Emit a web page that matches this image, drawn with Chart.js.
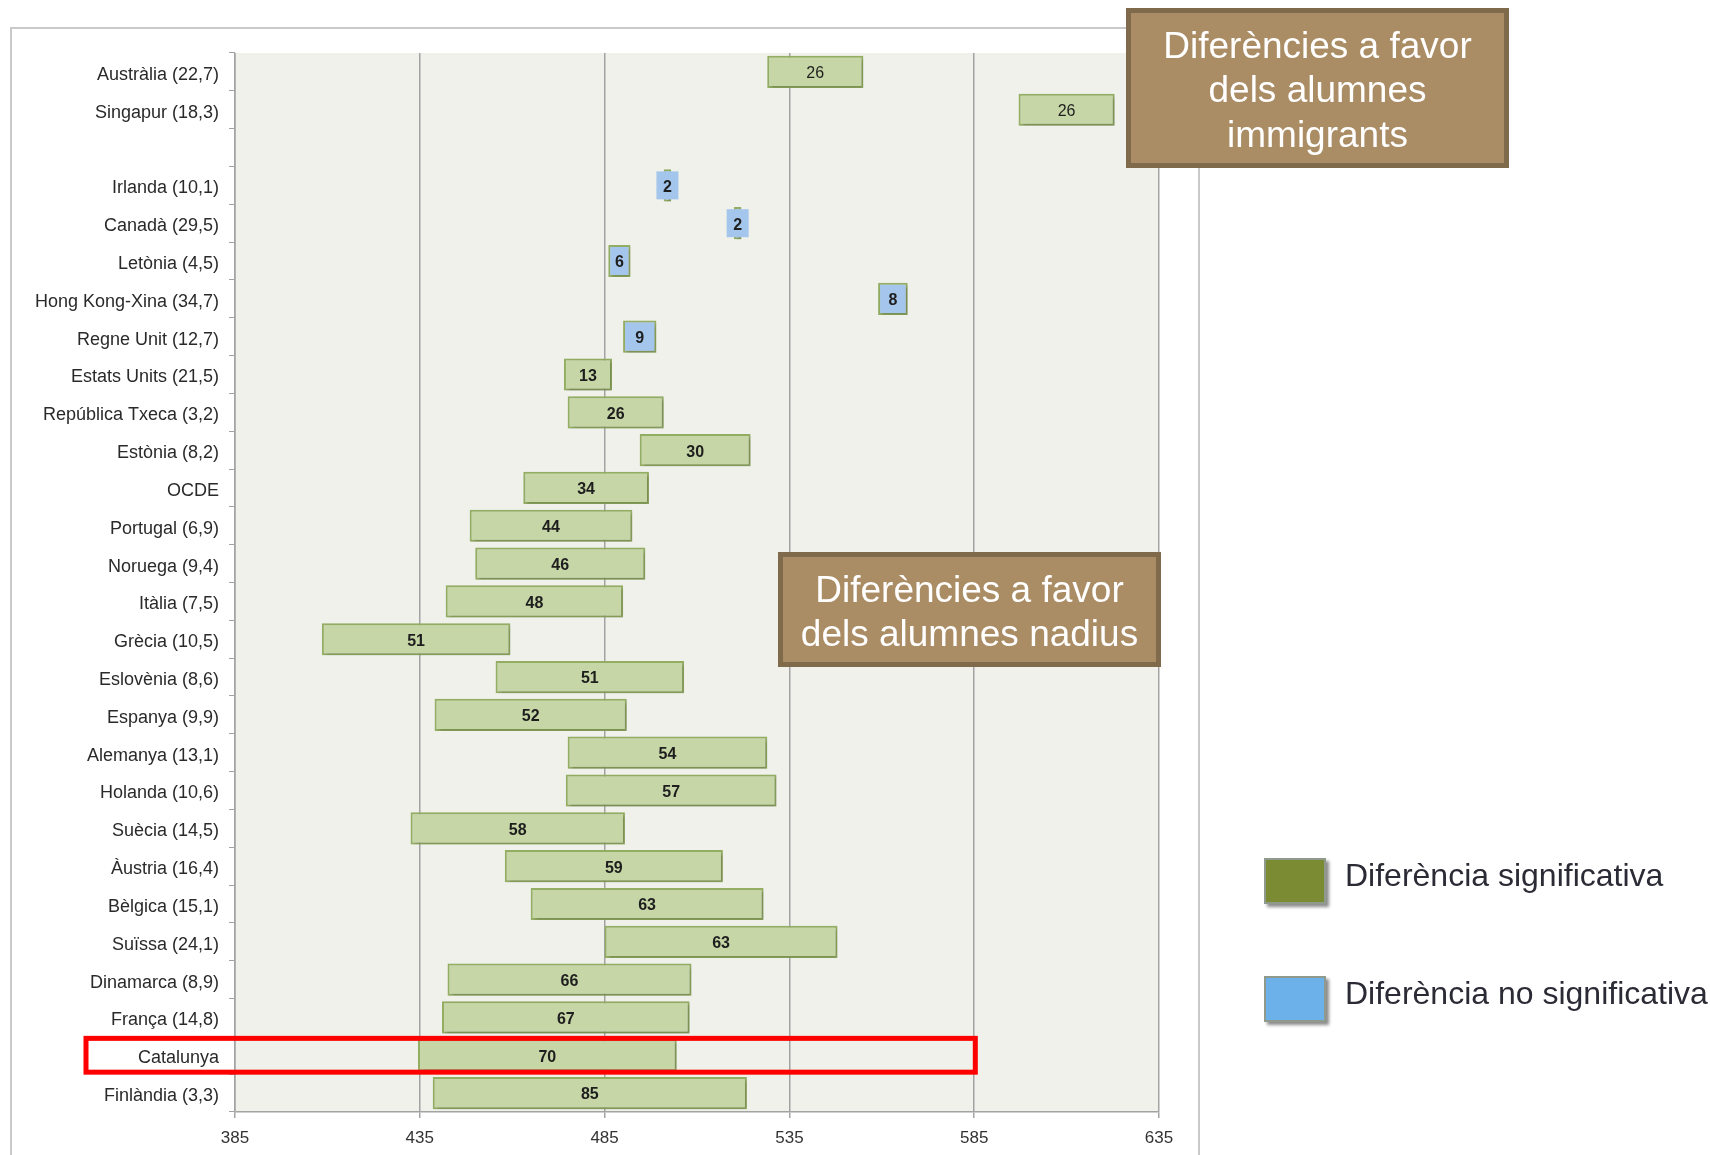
<!DOCTYPE html>
<html>
<head>
<meta charset="utf-8">
<script src="https://cdn.jsdelivr.net/npm/chart.js@4.4.0/dist/chart.umd.min.js"></script>
<style>
  html, body { margin: 0; padding: 0; background: #fff; }
  canvas { display: block; }
</style>
</head>
<body>
<canvas id="chart" width="1710" height="1155"></canvas>
<script>
// countries (with % immigrant pupils), an empty row separates the first two
const countries = [
  'Austràlia (22,7)', 'Singapur (18,3)', '', 'Irlanda (10,1)', 'Canadà (29,5)',
  'Letònia (4,5)', 'Hong Kong-Xina (34,7)', 'Regne Unit (12,7)', 'Estats Units (21,5)',
  'República Txeca (3,2)', 'Estònia (8,2)', 'OCDE', 'Portugal (6,9)', 'Noruega (9,4)',
  'Itàlia (7,5)', 'Grècia (10,5)', 'Eslovènia (8,6)', 'Espanya (9,9)', 'Alemanya (13,1)',
  'Holanda (10,6)', 'Suècia (14,5)', 'Àustria (16,4)', 'Bèlgica (15,1)', 'Suïssa (24,1)',
  'Dinamarca (8,9)', 'França (14,8)', 'Catalunya', 'Finlàndia (3,3)'
];
const lowScores = [
  529, 597, null, 501, 520, 486, 559, 490, 474, 475, 494.5, 463, 448.5, 450,
  442, 408.5, 455.5, 439, 475, 474.5, 432.5, 458, 465, 485, 442.5, 441, 434.5, 438.5
];
const highScores = [
  555, 623, null, 503, 522, 492, 567, 499, 487, 501, 524.5, 497, 492.5, 496,
  490, 459.5, 506.5, 491, 529, 531.5, 490.5, 517, 528, 548, 508.5, 508, 504.5, 523.5
];
const gapLabels = [
  26, 26, null, 2, 2, 6, 8, 9, 13, 26, 30, 34, 44, 46,
  48, 51, 51, 52, 54, 57, 58, 59, 63, 63, 66, 67, 70, 85
];
const significant = [
  true, true, null, false, false, false, false, false, true, true, true, true, true, true,
  true, true, true, true, true, true, true, true, true, true, true, true, true, true
];
const xTicks = [385, 435, 485, 535, 585, 635];
const highlightRow = 'Catalunya';

const FONT = "'Liberation Sans', Arial, sans-serif";
Chart.defaults.font.family = FONT;

const sigData = countries.map((c, i) => significant[i] === true ? [lowScores[i], highScores[i]] : null);
const nonSigData = countries.map((c, i) => significant[i] === false ? [lowScores[i], highScores[i]] : null);

// white page, outer frame and plot background
const background = {
  id: 'background',
  beforeDraw(chart) {
    const ctx = chart.ctx;
    const a = chart.chartArea;
    ctx.save();
    ctx.fillStyle = '#fff';
    ctx.fillRect(0, 0, chart.width, chart.height);
    ctx.strokeStyle = '#c9c9c9';
    ctx.lineWidth = 2;
    ctx.beginPath();
    ctx.moveTo(11, chart.height);
    ctx.lineTo(11, 28);
    ctx.lineTo(1199, 28);
    ctx.lineTo(1199, chart.height);
    ctx.stroke();
    ctx.fillStyle = '#eff1ea';
    ctx.fillRect(a.left, a.top, a.right - a.left, a.bottom - a.top);
    ctx.restore();
  }
};

const barShadow = {
  id: 'barShadow',
  beforeDatasetsDraw(chart) {
    const ctx = chart.ctx;
    ctx.save();
    ctx.shadowColor = 'rgba(0,0,0,0.22)';
    ctx.shadowBlur = 3;
    ctx.shadowOffsetX = 2;
    ctx.shadowOffsetY = 2;
  },
  afterDatasetsDraw(chart) {
    chart.ctx.restore();
  }
};

// difference written in the middle of each bar
const barLabels = {
  id: 'barLabels',
  afterDatasetsDraw(chart) {
    const ctx = chart.ctx;
    ctx.save();
    chart.data.datasets.forEach((ds, di) => {
      const meta = chart.getDatasetMeta(di);
      meta.data.forEach((bar, i) => {
        if (ds.data[i] == null) return;
        const left = Math.min(bar.x, bar.base);
        const right = Math.max(bar.x, bar.base);
        const cx = (left + right) / 2;
        if (significant[i] === false && right - left < 22) {
          ctx.fillStyle = '#a4c6ec';
          ctx.fillRect(cx - 11, bar.y - 14, 22, 28);
        }
        ctx.fillStyle = '#1e1e1e';
        ctx.font = (i < 2 ? '' : 'bold ') + '16px ' + FONT;
        ctx.textAlign = 'center';
        ctx.textBaseline = 'middle';
        ctx.fillText(String(gapLabels[i]), cx, bar.y + 2);
      });
    });
    ctx.restore();
  }
};

function drawBox(ctx, x, y, w, h, lines, lineGap) {
  ctx.fillStyle = '#7f6a4b';
  ctx.fillRect(x, y, w, h);
  ctx.fillStyle = '#ab8d65';
  ctx.fillRect(x + 5, y + 5, w - 10, h - 10);
  ctx.fillStyle = '#fff';
  ctx.font = '37px ' + FONT;
  ctx.textAlign = 'center';
  ctx.textBaseline = 'middle';
  const cy = y + h / 2 - (lines.length - 1) * lineGap / 2 + 4;
  lines.forEach((t, k) => ctx.fillText(t, x + w / 2, cy + k * lineGap));
}

// red highlight, text boxes and the legend
const annotations = {
  id: 'annotations',
  afterDraw(chart) {
    const ctx = chart.ctx;
    const xs = chart.scales.x;
    const ys = chart.scales.y;
    ctx.save();

    const idx = countries.indexOf(highlightRow);
    const slot = ys.height / countries.length;
    const cy = ys.getPixelForValue(idx);
    ctx.strokeStyle = '#ff0000';
    ctx.lineWidth = 5;
    const rx = 86;
    const rr = xs.getPixelForValue(585.3);
    ctx.strokeRect(rx, cy - slot / 2 + 2, rr - rx, slot - 4);

    drawBox(ctx, 1126, 8, 383, 160, ['Diferències a favor', 'dels alumnes', 'immigrants'], 44.7);
    drawBox(ctx, 778, 552, 383, 115, ['Diferències a favor', 'dels alumnes nadius'], 43.6);

    const legend = [
      { label: 'Diferència significativa', color: '#7a8b33', y: 858 },
      { label: 'Diferència no significativa', color: '#6cb1e9', y: 976 }
    ];
    legend.forEach(item => {
      ctx.save();
      ctx.shadowColor = 'rgba(0,0,0,0.45)';
      ctx.shadowBlur = 3;
      ctx.shadowOffsetX = 3;
      ctx.shadowOffsetY = 3;
      ctx.fillStyle = '#8f9a8c';
      ctx.fillRect(1264, item.y, 62, 46);
      ctx.restore();
      ctx.fillStyle = item.color;
      ctx.fillRect(1266, item.y + 2, 58, 42);
      ctx.fillStyle = '#2b2b36';
      ctx.font = '32px ' + FONT;
      ctx.textAlign = 'left';
      ctx.textBaseline = 'middle';
      ctx.fillText(item.label, 1345, item.y + 19);
    });
    ctx.restore();
  }
};

new Chart(document.getElementById('chart'), {
  type: 'bar',
  data: {
    labels: countries,
    datasets: [
      {
        label: 'Diferència significativa',
        data: sigData,
        backgroundColor: '#c6d6a6',
        borderColor: '#93ad62',
        borderWidth: 2,
        borderSkipped: false
      },
      {
        label: 'Diferència no significativa',
        data: nonSigData,
        backgroundColor: '#a4c6ec',
        borderColor: '#93ad62',
        borderWidth: 2,
        borderSkipped: false
      }
    ]
  },
  options: {
    indexAxis: 'y',
    responsive: false,
    animation: false,
    devicePixelRatio: 1,
    grouped: false,
    barPercentage: 0.85,
    categoryPercentage: 1,
    layout: { padding: { top: 53, right: 551, bottom: 0, left: 0 } },
    plugins: {
      legend: { display: false },
      tooltip: { enabled: false }
    },
    scales: {
      x: {
        min: 385,
        max: 635,
        afterBuildTicks: s => { s.ticks = xTicks.map(v => ({ value: v })); },
        afterFit: s => { s.height = 43; },
        ticks: { color: '#333', font: { size: 17 }, padding: 10 },
        grid: { color: '#a3a3a3', lineWidth: 1.5, tickLength: 6 },
        border: { color: '#a3a3a3', width: 1.5 }
      },
      y: {
        afterFit: s => { s.width = 235; },
        ticks: { color: '#2a2a2a', font: { size: 18 }, padding: 10, labelOffset: 3, autoSkip: false },
        grid: { drawOnChartArea: false, offset: true, tickLength: 6, color: '#a3a3a3' },
        border: { color: '#b5b5b5', width: 1 }
      }
    }
  },
  plugins: [background, barShadow, barLabels, annotations]
});
</script>
</body>
</html>
